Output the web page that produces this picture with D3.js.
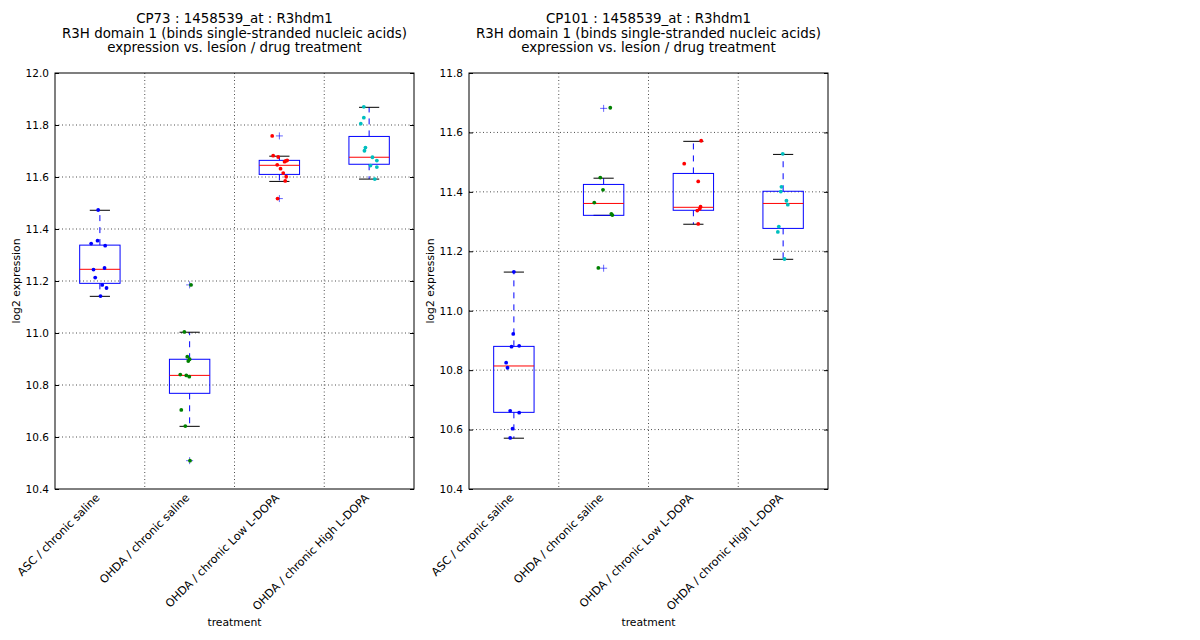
<!DOCTYPE html>
<html>
<head>
<meta charset="utf-8">
<script src="https://cdn.jsdelivr.net/npm/d3@7"></script>
<style>
  body { margin: 0; background: #fff; }
  text { font-family: "DejaVu Sans", sans-serif; fill: #000; }
</style>
</head>
<body>
<script>
// two boxplot panels, same probe, two datasets
const categories = ["ASC / chronic saline", "OHDA / chronic saline",
  "OHDA / chronic Low L-DOPA", "OHDA / chronic High L-DOPA"];
const groupColors = ["#0000ff", "#008000", "#ff0000", "#00bfbf"];

// CP73
const cp73Ticks = [10.4, 10.6, 10.8, 11.0, 11.2, 11.4, 11.6, 11.8, 12.0];
const cp73Q1 = [11.191, 10.768, 11.610, 11.649];
const cp73Median = [11.245, 10.837, 11.645, 11.676];
const cp73Q3 = [11.338, 10.899, 11.664, 11.756];
const cp73WhiskLo = [11.141, 10.641, 11.583, 11.592];
const cp73WhiskHi = [11.472, 11.003, 11.680, 11.868];
const cp73Outliers = [[], [11.185, 10.509], [11.758, 11.517], []];
const cp73Points = [
  [11.473, 11.344, 11.355, 11.336, 11.244, 11.250, 11.213, 11.185, 11.173, 11.142],
  [11.185, 11.004, 10.909, 10.899, 10.892, 10.840, 10.837, 10.832, 10.704, 10.642, 10.509],
  [11.758, 11.682, 11.677, 11.659, 11.664, 11.662, 11.647, 11.632, 11.615, 11.601, 11.585, 11.517],
  [11.870, 11.828, 11.805, 11.713, 11.701, 11.676, 11.663, 11.644, 11.638, 11.592]
];
const cp73Jitter = [
  [-0.019, -0.097, -0.026, 0.059, -0.071, 0.052, -0.052, 0.026, 0.074, 0.007],
  [0.015, -0.059, -0.026, 0, -0.015, -0.104, -0.037, -0.004, -0.093, -0.048, 0.004],
  [-0.080, -0.069, -0.013, 0.058, 0.087, 0.072, -0.024, 0.013, 0.043, 0.076, 0.065, -0.020],
  [-0.059, -0.059, -0.093, -0.041, -0.052, 0.037, 0.086, 0.015, 0.086, 0.063]
];

// CP101
const cp101Ticks = [10.4, 10.6, 10.8, 11.0, 11.2, 11.4, 11.6, 11.8];
const cp101Q1 = [10.658, 11.321, 11.338, 11.277];
const cp101Median = [10.814, 11.361, 11.348, 11.361];
const cp101Q3 = [10.880, 11.425, 11.462, 11.402];
const cp101WhiskLo = [10.571, 11.321, 11.291, 11.173];
const cp101WhiskHi = [11.130, 11.446, 11.570, 11.526];
const cp101Outliers = [[], [11.681, 11.143], [], []];
const cp101Points = [
  [11.131, 10.922, 10.879, 10.882, 10.825, 10.808, 10.663, 10.657, 10.603, 10.572],
  [11.683, 11.448, 11.407, 11.364, 11.326, 11.322, 11.144],
  [11.572, 11.495, 11.435, 11.350, 11.343, 11.337, 11.292],
  [11.528, 11.417, 11.401, 11.370, 11.357, 11.283, 11.265, 11.174]
];
const cp101Jitter = [
  [0, -0.007, -0.026, 0.059, -0.086, -0.071, -0.041, 0.059, -0.015, -0.041],
  [0.074, -0.037, -0.007, -0.104, 0.086, 0.097, -0.059],
  [0.087, -0.102, 0.054, 0.080, 0.072, 0.043, 0.054],
  [-0.004, -0.019, -0.026, 0.037, 0.052, -0.048, -0.059, 0.015]
];

const svg = d3.select('body')
  .append('svg')
  .attr('width', 1200)
  .attr('height', 640);

const plotW = 359, plotH = 416, plotTop = 73;
const boxW = 0.45;

function drawPanel(left, name, ticks, q1, med, q3, wlo, whi, outl, pts, jit) {
  const g = svg.append('g').attr('transform', `translate(${left},${plotTop})`);
  const x = d3.scaleLinear().domain([0.5, 4.5]).range([0, plotW]);
  const y = d3.scaleLinear().domain([ticks[0], ticks[ticks.length - 1]]).range([plotH, 0]);
  const idx = categories.map((c, i) => i);

  // grid
  g.selectAll('.hgrid').data(ticks.slice(1, -1)).enter().append('line')
    .attr('x1', 0).attr('x2', plotW)
    .attr('y1', d => y(d)).attr('y2', d => y(d))
    .attr('stroke', '#000').attr('stroke-width', 0.7).attr('stroke-dasharray', '1,2.5');
  g.selectAll('.vgrid').data([1.5, 2.5, 3.5]).enter().append('line')
    .attr('x1', d => x(d)).attr('x2', d => x(d))
    .attr('y1', 0).attr('y2', plotH)
    .attr('stroke', '#000').attr('stroke-width', 0.7).attr('stroke-dasharray', '1,2.5');

  // whiskers
  const b = g.append('g');
  b.selectAll('.wup').data(idx).enter().append('line')
    .attr('x1', i => x(i + 1)).attr('x2', i => x(i + 1))
    .attr('y1', i => y(q3[i])).attr('y2', i => y(whi[i]))
    .attr('stroke', '#0000ff').attr('stroke-dasharray', '6,6');
  b.selectAll('.wlo').data(idx).enter().append('line')
    .attr('x1', i => x(i + 1)).attr('x2', i => x(i + 1))
    .attr('y1', i => y(q1[i])).attr('y2', i => y(wlo[i]))
    .attr('stroke', '#0000ff').attr('stroke-dasharray', '6,6');
  // caps
  [whi, wlo].forEach(arr => {
    b.selectAll(null).data(idx).enter().append('line')
      .attr('x1', i => x(i + 1 - boxW / 4)).attr('x2', i => x(i + 1 + boxW / 4))
      .attr('y1', i => y(arr[i])).attr('y2', i => y(arr[i]))
      .attr('stroke', '#000');
  });
  // boxes
  b.selectAll('rect').data(idx).enter().append('rect')
    .attr('x', i => x(i + 1 - boxW / 2))
    .attr('width', i => x(i + 1 + boxW / 2) - x(i + 1 - boxW / 2))
    .attr('y', i => y(q3[i]))
    .attr('height', i => y(q1[i]) - y(q3[i]))
    .attr('fill', 'none').attr('stroke', '#0000ff');
  b.selectAll('.med').data(idx).enter().append('line')
    .attr('x1', i => x(i + 1 - boxW / 2)).attr('x2', i => x(i + 1 + boxW / 2))
    .attr('y1', i => y(med[i])).attr('y2', i => y(med[i]))
    .attr('stroke', '#ff0000');

  // outliers as +
  const fl = [];
  outl.forEach((arr, i) => arr.forEach(v => fl.push([i, v])));
  b.selectAll('.flier').data(fl).enter().append('path')
    .attr('transform', d => `translate(${x(d[0] + 1)},${y(d[1])})`)
    .attr('d', 'M-3.5,0H3.5M0,-3.5V3.5')
    .attr('stroke', '#0000ff').attr('stroke-width', 0.6);

  // jittered points
  const dots = [];
  pts.forEach((arr, i) => arr.forEach((v, k) => dots.push([i, v, jit[i][k]])));
  g.selectAll('circle').data(dots).enter().append('circle')
    .attr('cx', d => x(d[0] + 1 + d[2]))
    .attr('cy', d => y(d[1]))
    .attr('r', 1.9)
    .attr('fill', d => groupColors[d[0]]);

  // axes
  const yAxis = d3.axisLeft(y).tickValues(ticks).tickFormat(d3.format('.1f'))
    .tickSizeInner(-4).tickSizeOuter(0).tickPadding(6);
  const ya = g.append('g').call(yAxis);
  ya.select('.domain').remove();
  ya.selectAll('text').style('font-size', '10.5px').style('font-family', '"DejaVu Sans", sans-serif');
  const yr = g.append('g').attr('transform', `translate(${plotW},0)`)
    .call(d3.axisRight(y).tickValues(ticks).tickSizeInner(-4).tickSizeOuter(0).tickFormat(''));
  yr.select('.domain').remove();

  g.selectAll('.xlab').data(idx).enter().append('text')
    .attr('transform', i => `translate(${x(i + 1) - 2},${plotH + 7}) rotate(-45)`)
    .attr('text-anchor', 'end')
    .attr('dominant-baseline', 'central')
    .style('font-size', '11.2px')
    .text(i => categories[i]);

  // frame
  g.append('rect').attr('width', plotW).attr('height', plotH)
    .attr('fill', 'none').attr('stroke', '#000').attr('stroke-width', 1);

  // labels
  g.append('text').attr('transform', `translate(-35,${plotH / 2}) rotate(-90)`)
    .attr('text-anchor', 'middle').style('font-size', '10.8px').text('log2 expression');
  g.append('text').attr('x', plotW / 2).attr('y', 553)
    .attr('text-anchor', 'middle').style('font-size', '10.8px').text('treatment');

  const title = [name + ' : 1458539_at : R3hdm1',
    'R3H domain 1 (binds single-stranded nucleic acids)',
    'expression vs. lesion / drug treatment'];
  g.selectAll('.title').data(title).enter().append('text')
    .attr('x', plotW / 2)
    .attr('y', (d, k) => -49.7 + k * 14.2)
    .attr('text-anchor', 'middle')
    .style('font-size', '13.4px')
    .text(d => d);
}

drawPanel(55, 'CP73', cp73Ticks, cp73Q1, cp73Median, cp73Q3, cp73WhiskLo, cp73WhiskHi,
  cp73Outliers, cp73Points, cp73Jitter);
drawPanel(469, 'CP101', cp101Ticks, cp101Q1, cp101Median, cp101Q3, cp101WhiskLo, cp101WhiskHi,
  cp101Outliers, cp101Points, cp101Jitter);
</script>
</body>
</html>
